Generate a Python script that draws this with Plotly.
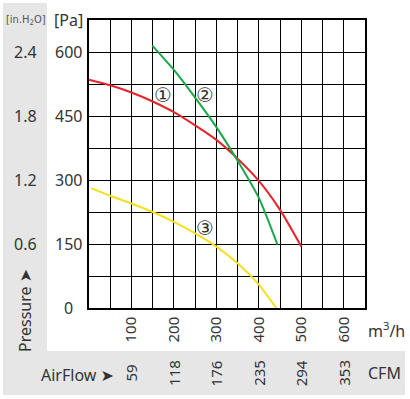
import plotly.graph_objects as go

# ---- data ----
red_x = [0, 50, 100, 150, 200, 250, 300, 350, 400, 450, 500]
red_y = [535, 522, 505, 484, 459, 428, 394, 350, 298, 230, 144]

green_x = [149, 200, 250, 300, 350, 400, 444]
green_y = [615, 558, 493, 424, 345, 258, 148]

yellow_x = [5, 50, 100, 150, 200, 250, 300, 350, 400, 441]
yellow_y = [281, 263, 245, 225, 202, 175, 144, 105, 55, 0]

flow_ticks = [100, 200, 300, 400, 500, 600]
cfm_labels = ["59", "118", "176", "235", "294", "353"]
pa_ticks = [600, 450, 300, 150, 0]
inh2o_labels = ["2.4", "1.8", "1.2", "0.6"]

curve_labels = ["①", "②", "③"]
label_x = [174, 274, 274]
label_y = [499, 499, 188]

# ---- layout geometry ----
W, H = 410, 399
L, R, T, B = 89, 365, 20, 308
FONT = "Noto Sans, Open Sans, DejaVu Sans, sans-serif"
TXT = "#333333"
GREY = "#e6e6e6"


def px(xp):
    return (xp - L) / (R - L)


def py(yp):
    return (B - yp) / (B - T)


fig = go.Figure()

fig.add_trace(go.Scatter(x=red_x, y=red_y, mode="lines",
                         line=dict(color="#e8232b", width=2, shape="spline", smoothing=0.6),
                         hoverinfo="skip", showlegend=False))
fig.add_trace(go.Scatter(x=green_x, y=green_y, mode="lines",
                         line=dict(color="#18a84a", width=2, shape="spline", smoothing=0.6),
                         hoverinfo="skip", showlegend=False))
fig.add_trace(go.Scatter(x=yellow_x, y=yellow_y, mode="lines",
                         line=dict(color="#f4e11c", width=2, shape="spline", smoothing=0.6),
                         hoverinfo="skip", showlegend=False))

# grey L-shaped band
shapes = [
    dict(type="rect", xref="paper", yref="paper", x0=px(3), x1=px(47), y0=py(351), y1=py(3),
         fillcolor=GREY, line=dict(width=0), layer="below"),
    dict(type="rect", xref="paper", yref="paper", x0=px(3), x1=px(405), y0=py(395), y1=py(351),
         fillcolor=GREY, line=dict(width=0), layer="below"),
]

ann = []
# Pa tick labels
for v in pa_ticks:
    ann.append(dict(x=px(68), xref="paper", y=v, yref="y", text=str(v), showarrow=False,
                    xanchor="center", yanchor="middle", font=dict(size=16, color=TXT, family=FONT)))
# in.H2O tick labels
for v, t in zip(pa_ticks[:4], inh2o_labels):
    ann.append(dict(x=px(25), xref="paper", y=v, yref="y", text=t, showarrow=False,
                    xanchor="center", yanchor="middle", font=dict(size=16, color=TXT, family=FONT)))
# CFM labels
for v, t in zip(flow_ticks, cfm_labels):
    ann.append(dict(x=v, xref="x", y=py(373), yref="paper", text=t, showarrow=False, textangle=-90,
                    xanchor="center", yanchor="middle", font=dict(size=15, color=TXT, family=FONT)))
# unit / axis titles
ann += [
    dict(x=px(68), xref="paper", y=py(20), yref="paper", text="[Pa]", showarrow=False,
         xanchor="center", yanchor="middle", font=dict(size=16, color=TXT, family=FONT)),
    dict(x=px(26), xref="paper", y=py(20), yref="paper", text="[in.H<sub>2</sub>O]", showarrow=False,
         xanchor="center", yanchor="middle",
         font=dict(size=11, color="#555555", family="Liberation Sans Narrow, DejaVu Sans Condensed, sans-serif")),
    dict(x=px(25), xref="paper", y=py(311), yref="paper", text="Pressure ➤", showarrow=False,
         textangle=-90, xanchor="center", yanchor="middle", font=dict(size=16, color=TXT, family=FONT)),
    dict(x=px(77), xref="paper", y=py(375), yref="paper", text="AirFlow ➤", showarrow=False,
         xanchor="center", yanchor="middle", font=dict(size=16, color=TXT, family=FONT)),
    dict(x=px(366), xref="paper", y=py(330), yref="paper", text="m<sup>3</sup>/h", showarrow=False,
         xanchor="left", yanchor="middle", font=dict(size=16, color=TXT, family=FONT)),
    dict(x=px(366), xref="paper", y=py(373), yref="paper", text="CFM", showarrow=False,
         xanchor="left", yanchor="middle", font=dict(size=16, color=TXT, family=FONT)),
]
# curve labels
for t, x, y in zip(curve_labels, label_x, label_y):
    ann.append(dict(x=x, xref="x", y=y, yref="y", text=t, showarrow=False,
                    xanchor="center", yanchor="middle", font=dict(size=20, color=TXT, family="DejaVu Sans, Noto Sans CJK SC")))

fig.update_layout(
    width=W, height=H,
    margin=dict(l=L, r=W - R, t=T, b=H - B, pad=0),
    paper_bgcolor="white", plot_bgcolor="white",
    shapes=shapes, annotations=ann,
    showlegend=False,
    xaxis=dict(range=[0, 650], tickmode="array", tickvals=flow_ticks,
               ticktext=[str(v) for v in flow_ticks],
               tickangle=-90, ticks="", ticklabelstandoff=1,
               showgrid=True, gridcolor="black", gridwidth=1,
               minor=dict(tick0=0, dtick=50, showgrid=True, gridcolor="black", gridwidth=1, ticks=""),
               showline=True, linecolor="black", linewidth=1.5, mirror=True,
               zeroline=False, tickfont=dict(size=15, color=TXT, family=FONT), fixedrange=True),
    yaxis=dict(range=[0, 675], tickmode="array", tickvals=list(range(0, 676, 75)),
               showticklabels=False, ticks="",
               showgrid=True, gridcolor="black", gridwidth=1,
               showline=True, linecolor="black", linewidth=1.5, mirror=True,
               zeroline=False, fixedrange=True),
)

fig.write_html("out.html", config={"displayModeBar": False},
               post_script="document.body.style.margin='0';")
